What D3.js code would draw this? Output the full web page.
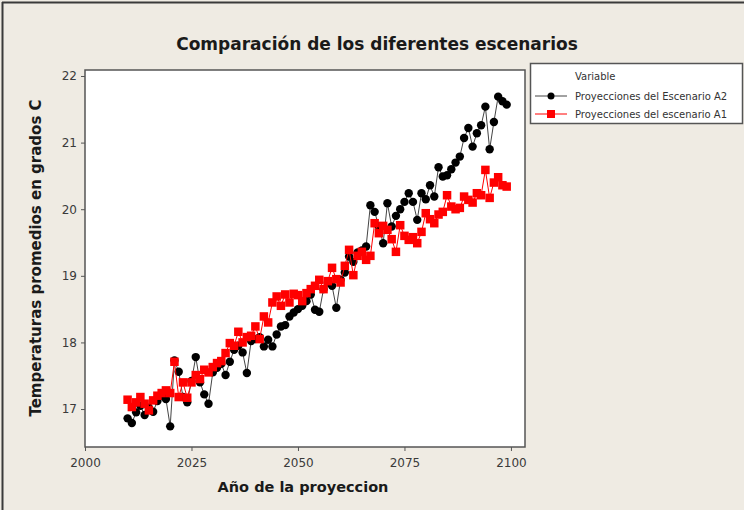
<!DOCTYPE html>
<html>
<head>
<meta charset="utf-8">
<script src="https://cdn.jsdelivr.net/npm/d3@7/dist/d3.min.js"></script>
<style>
  html, body { margin: 0; padding: 0; background: #efebe3; }
  svg { display: block; }
</style>
</head>
<body>
<svg id="chart" width="744" height="510"></svg>
<script>
// ---- Data ----
const years = d3.range(2010, 2100);
const escenarioA2 = [
  16.86, 16.79, 16.95, 17.05, 16.91, 17.02, 16.96, 17.12, 17.20, 17.15,
  16.74, 17.73, 17.56, 17.18, 17.10, 17.42, 17.78, 17.40, 17.22, 17.08,
  17.55, 17.62, 17.68, 17.51, 17.71, 17.89, 17.95, 17.85, 17.54, 18.02,
  18.05, 18.08, 17.94, 18.04, 17.94, 18.12, 18.24, 18.26, 18.39, 18.45,
  18.50, 18.55, 18.62, 18.72, 18.49, 18.46, 18.80, 18.90, 18.85, 18.52,
  18.94, 19.05, 19.29, 19.21, 19.35, 19.38, 19.44, 20.06, 19.96, 19.74,
  19.49, 20.09, 19.74, 19.90, 20.00, 20.11, 20.24, 20.11, 19.84, 20.24,
  20.15, 20.36, 20.19, 20.63, 20.49, 20.51, 20.60, 20.70, 20.79, 21.07,
  21.22, 20.94, 21.14, 21.26, 21.54, 20.90, 21.31, 21.69, 21.62, 21.57
];
const escenarioA1 = [
  17.14, 17.03, 17.10, 17.18, 17.08, 16.98, 17.13, 17.20, 17.24, 17.28,
  17.24, 17.71, 17.18, 17.40, 17.17, 17.40, 17.51, 17.45, 17.59, 17.55,
  17.63, 17.69, 17.72, 17.84, 17.99, 17.95, 18.16, 18.00, 18.08, 18.10,
  18.24, 18.05, 18.39, 18.30, 18.60, 18.69, 18.55, 18.72, 18.60, 18.73,
  18.71, 18.62, 18.74, 18.80, 18.85, 18.94, 18.80, 18.92, 19.12, 18.95,
  18.90, 19.15, 19.39, 19.01, 19.30, 19.36, 19.24, 19.30, 19.79, 19.64,
  19.75, 19.69, 19.55, 19.36, 19.76, 19.60, 19.54, 19.58, 19.49, 19.66,
  19.94, 19.85, 19.79, 19.92, 19.96, 20.21, 20.04, 20.00, 20.02, 20.19,
  20.14, 20.10, 20.24, 20.21, 20.59, 20.17, 20.40, 20.48, 20.36, 20.34
];
const xTicks = [2000, 2025, 2050, 2075, 2100];
const yTicks = [17, 18, 19, 20, 21, 22];
const title = "Comparación de los diferentes escenarios";
const xLabel = "Año de la proyeccion";
const yLabel = "Temperaturas promedios en grados C";
const legendTitle = "Variable";
const seriesNames = ["Proyecciones del Escenario A2", "Proyecciones del escenario A1"];

// ---- Layout ----
const svg = d3.select("#chart");
const W = 744, H = 510;
const plot = { left: 85, right: 525, top: 70, bottom: 447 };

svg.append("rect").attr("x", 0).attr("y", 0).attr("width", W).attr("height", H).attr("fill", "#efebe3");
svg.append("line").attr("x1", 2).attr("x2", W).attr("y1", 2.5).attr("y2", 2.5).attr("stroke", "#3a3a3a").attr("stroke-width", 2);
svg.append("line").attr("x1", 2.5).attr("x2", 2.5).attr("y1", 2).attr("y2", H).attr("stroke", "#3a3a3a").attr("stroke-width", 2);

const x = d3.scaleLinear().domain([2000, 2103.3]).range([plot.left, plot.right]);
const y = d3.scaleLinear().domain([16.43, 22.09]).range([plot.bottom, plot.top]);

svg.append("rect")
  .attr("x", plot.left).attr("y", plot.top)
  .attr("width", plot.right - plot.left).attr("height", plot.bottom - plot.top)
  .attr("fill", "#ffffff");

const xAxis = d3.axisBottom(x).tickValues(xTicks).tickFormat(d3.format("d")).tickSize(4).tickSizeOuter(0);
const yAxis = d3.axisLeft(y).tickValues(yTicks).tickFormat(d3.format("d")).tickSize(4).tickSizeOuter(0);

const gx = svg.append("g").attr("transform", `translate(0,${plot.bottom})`).call(xAxis);
const gy = svg.append("g").attr("transform", `translate(${plot.left},0)`).call(yAxis);
[gx, gy].forEach(g => {
  g.select(".domain").remove();
  g.selectAll(".tick line").attr("stroke", "#555");
  g.selectAll(".tick text")
    .attr("fill", "#3a3a3a")
    .style("font-family", "'DejaVu Sans', sans-serif")
    .style("font-size", "12px");
});
gx.selectAll(".tick text").attr("dy", "1.05em");
gy.selectAll(".tick text").attr("x", -8);

svg.append("rect")
  .attr("x", plot.left).attr("y", plot.top)
  .attr("width", plot.right - plot.left).attr("height", plot.bottom - plot.top)
  .attr("fill", "none").attr("stroke", "#555").attr("stroke-width", 1.5);

const dataA2 = years.map((yr, i) => ({ yr, v: escenarioA2[i] }));
const dataA1 = years.map((yr, i) => ({ yr, v: escenarioA1[i] }));
const line = d3.line().x(d => x(d.yr)).y(d => y(d.v));

svg.append("path").datum(dataA2).attr("d", line)
  .attr("fill", "none").attr("stroke", "#444").attr("stroke-width", 1);
svg.append("g").selectAll("circle").data(dataA2).join("circle")
  .attr("cx", d => x(d.yr)).attr("cy", d => y(d.v)).attr("r", 4.2)
  .attr("fill", "#000");

svg.append("path").datum(dataA1).attr("d", line)
  .attr("fill", "none").attr("stroke", "#ff0000").attr("stroke-width", 1);
const sq = 8.5;
svg.append("g").selectAll("rect").data(dataA1).join("rect")
  .attr("x", d => x(d.yr) - sq / 2).attr("y", d => y(d.v) - sq / 2)
  .attr("width", sq).attr("height", sq)
  .attr("fill", "#ff0000");

svg.append("text").attr("x", 377).attr("y", 50).attr("text-anchor", "middle")
  .style("font-family", "'DejaVu Sans', sans-serif").style("font-size", "17px").style("font-weight", "bold")
  .attr("fill", "#1a1a1a").text(title);
svg.append("text").attr("x", 303).attr("y", 492).attr("text-anchor", "middle")
  .style("font-family", "'DejaVu Sans', sans-serif").style("font-size", "14.5px").style("font-weight", "bold")
  .attr("fill", "#1a1a1a").text(xLabel);
svg.append("text").attr("transform", "translate(41,258) rotate(-90)").attr("text-anchor", "middle")
  .style("font-family", "'DejaVu Sans', sans-serif").style("font-size", "15px").style("font-weight", "bold")
  .attr("fill", "#1a1a1a").text(yLabel);

const lg = svg.append("g");
lg.append("rect").attr("x", 530.5).attr("y", 63.5).attr("width", 212).attr("height", 60)
  .attr("fill", "#ffffff").attr("stroke", "#555").attr("stroke-width", 1.5);
lg.append("text").attr("x", 575).attr("y", 80)
  .style("font-family", "'DejaVu Sans', sans-serif").style("font-size", "10px").attr("fill", "#333").text(legendTitle);
const legendRows = [
  { name: seriesNames[0], color: "#444", fill: "#000", shape: "circle", yy: 96 },
  { name: seriesNames[1], color: "#ff0000", fill: "#ff0000", shape: "square", yy: 114 }
];
legendRows.forEach(r => {
  lg.append("line").attr("x1", 535).attr("x2", 567).attr("y1", r.yy).attr("y2", r.yy)
    .attr("stroke", r.color).attr("stroke-width", 1);
  if (r.shape === "circle") {
    lg.append("circle").attr("cx", 551).attr("cy", r.yy).attr("r", 3.5).attr("fill", r.fill);
  } else {
    lg.append("rect").attr("x", 547).attr("y", r.yy - 4).attr("width", 8).attr("height", 8).attr("fill", r.fill);
  }
  lg.append("text").attr("x", 575).attr("y", r.yy + 3.5)
    .style("font-family", "'DejaVu Sans', sans-serif").style("font-size", "10px").attr("fill", "#333").text(r.name);
});
</script>
</body>
</html>
